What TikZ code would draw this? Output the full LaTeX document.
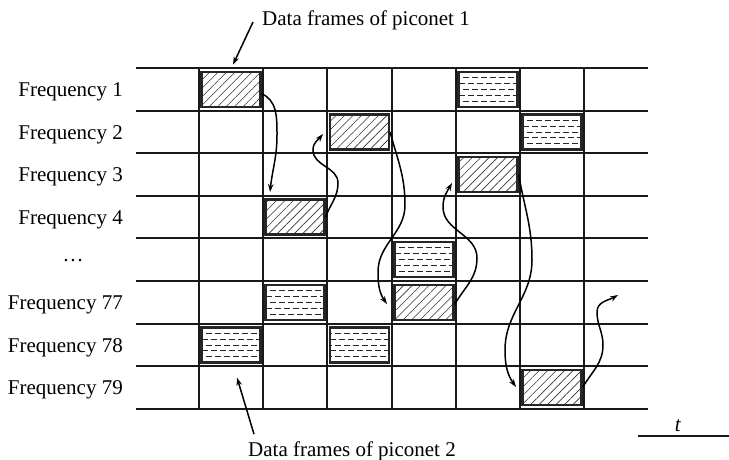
\documentclass[tikz,border=0pt]{standalone}
\usepackage{fontspec}
\setmainfont{Liberation Serif}
\usetikzlibrary{arrows.meta,patterns.meta,calc}

\begin{document}
\begin{tikzpicture}[x=1pt, y=1pt, >={Stealth[length=8pt,width=5.5pt]},
  gridline/.style={line width=2pt, black!90},
  frm/.style={draw=black!85, line width=2.2pt, minimum width=59pt, minimum height=35pt, inner sep=0pt},
  hatchfrm/.style={frm, pattern={Lines[angle=45,distance=6pt,line width=0.6pt]}, pattern color=black!80},
  dashfrm/.style={frm, fill=white, path picture={
    \foreach \k in {1,...,5}{
      \pgfmathsetmacro{\ph}{mod(\k,2)*4.5}
      \draw[line width=0.8pt, dash pattern=on 6pt off 3pt, dash phase=\ph pt]
        ($(path picture bounding box.north west)!\k/6!(path picture bounding box.south west)$) --
        ($(path picture bounding box.north east)!\k/6!(path picture bounding box.south east)$);}}},
  hop/.style={->, line width=1.5pt},
  lbl/.style={font=\fontsize{21}{25}\selectfont, inner sep=0pt}]
  \useasboundingbox (0,0) rectangle (729,460);
  \foreach \y in {392,349,307,264,222,179,136,94,51}
    \draw[gridline] (136,\y) -- (648,\y);
  \foreach \x in {199,263,327,392,456,520,584}
    \draw[gridline] (\x,392) -- (\x,51);
  \node[lbl, anchor=east] (fq1) at (123,368.2) {Frequency 1};
  \node[lbl, anchor=east] (fq2) at (123,325.6) {Frequency 2};
  \node[lbl, anchor=east] (fq3) at (123,283.0) {Frequency 3};
  \node[lbl, anchor=east] (fq4) at (123,240.4) {Frequency 4};
  \node[lbl] (fqdots) at (73,199) {\ldots};
  \node[lbl, anchor=east] (fq77) at (123,155.2) {Frequency 77};
  \node[lbl, anchor=east] (fq78) at (123,112.6) {Frequency 78};
  \node[lbl, anchor=east] (fq79) at (123,70.0) {Frequency 79};
  \node[hatchfrm] (pa1) at (231,370.5) {};
  \node[hatchfrm] (pa2) at (295,243) {};
  \node[hatchfrm] (pa3) at (359.5,328) {};
  \node[hatchfrm] (pa4) at (424,157.5) {};
  \node[hatchfrm] (pa5) at (488,285.5) {};
  \node[hatchfrm] (pa6) at (552,72.5) {};
  \node[dashfrm] (pb1) at (231,115) {};
  \node[dashfrm] (pb2) at (295,157.5) {};
  \node[dashfrm] (pb3) at (359.5,115) {};
  \node[dashfrm] (pb4) at (424,200.5) {};
  \node[dashfrm] (pb5) at (488,370.5) {};
  \node[dashfrm] (pb6) at (552,328) {};
  \coordinate (h1) at (270,268);
  \coordinate (h2) at (323,326);
  \coordinate (h3) at (387,156);
  \coordinate (h4) at (452,277);
  \coordinate (h5) at (516,73);
  \coordinate (h6) at (618,165);
  \draw[hop] ([yshift=-4pt]pa1.east) to[out=-20,in=90] (277,325) to[out=-90,in=84] (h1);
  \draw[hop] (pa2.east) to[out=70,in=-90] (338,277) to[out=90,in=-90] (313,310) to[out=90,in=-130] (h2);
  \draw[hop] (pa3.east) to[out=-75,in=90] (405,255) to[out=-90,in=90] (378,188) to[out=-90,in=125] (h3);
  \draw[hop] ([yshift=-2pt]pa4.east) to[out=60,in=-90] (477,202) to[out=90,in=-90] (443,253) to[out=90,in=-120] (h4);
  \draw[hop] (pa5.east) to[out=-80,in=90] (532,200) to[out=-90,in=90] (505,110) to[out=-90,in=125] (h5);
  \draw[hop] (pa6.east) to[out=60,in=-90] (603,115) to[out=90,in=-90] (597,148) to[out=90,in=-150] (h6);
  \node[lbl] (pn1) at (366,440) {Data frames of piconet 1};
  \node[lbl] (pn2) at (352,9) {Data frames of piconet 2};
  \draw[hop] ([xshift=-9pt,yshift=-2pt]pn1.west) -- ([xshift=2pt,yshift=7pt]pa1.north);
  \draw[hop] ([xshift=6pt,yshift=7pt]pn2.north west) -- ([xshift=6pt,yshift=-14pt]pb1.south);
  \node[lbl, anchor=base] (tt) at (678,28) {\textit{t}};
  \draw[gridline] (638,24) -- (729,24);
\end{tikzpicture}
\end{document}
